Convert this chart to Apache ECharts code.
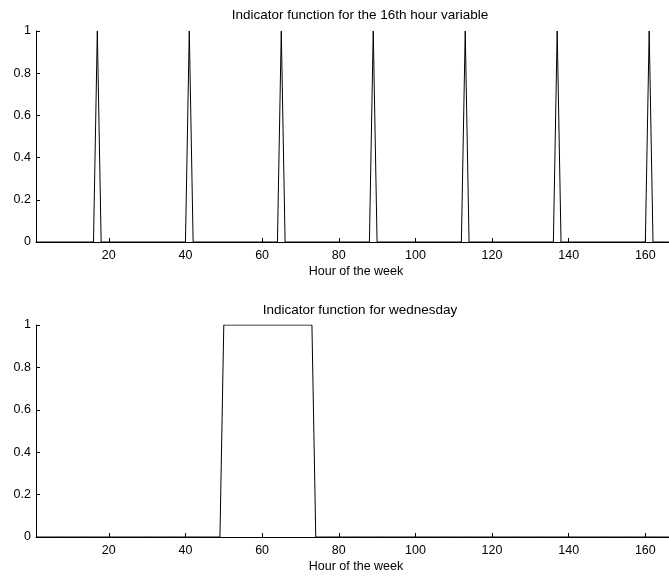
<!DOCTYPE html>
<html>
<head>
<meta charset="utf-8">
<script src="https://cdn.jsdelivr.net/npm/echarts@6/dist/echarts.min.js"></script>
<style>
  html, body { margin: 0; padding: 0; background: #fff; overflow: hidden; }
  /* the plot area runs a little past the right edge of the page */
  #chart { width: 677px; height: 578px; }
</style>
</head>
<body>
<div id="chart"></div>
<script>
// Hours of the week, numbered 1..168
const weekHours = [];
for (let h = 1; h <= 168; h++) weekHours.push(h);

// Hours where the 16th-hour indicator is on (one per day)
const hour16On = [17, 41, 65, 89, 113, 137, 161];

// Hours where the Wednesday indicator is on
const wednesdayOn = [50, 51, 52, 53, 54, 55, 56, 57, 58, 59, 60, 61,
                     62, 63, 64, 65, 66, 67, 68, 69, 70, 71, 72, 73];

const xTickValues = [20, 40, 60, 80, 100, 120, 140, 160];
const yTickValues = [0, 0.2, 0.4, 0.6, 0.8, 1];

const titles = ['Indicator function for the 16th hour variable', 'Indicator function for wednesday'];
const xName = 'Hour of the week';

function indicator(onHours) {
  const on = new Set(onHours);
  return weekHours.map(h => [h, on.has(h) ? 1 : 0]);
}

const FONT = 'Liberation Sans, Arial, sans-serif';
const grids = [
  { left: 36, right: 1, top: 31, height: 211, outerBoundsMode: 'none' },
  { left: 36, right: 1, top: 325, height: 212, outerBoundsMode: 'none' }
];

function xAxis(i) {
  return {
    type: 'value', gridIndex: i, min: 1, max: 168,
    name: xName, nameLocation: 'middle', nameGap: 23,
    nameTextStyle: { color: '#000', fontFamily: FONT, fontSize: 12.5 },
    axisLine: { lineStyle: { color: '#000', width: 1 } },
    axisTick: { inside: true, length: 4, customValues: xTickValues, lineStyle: { color: '#000' } },
    axisLabel: { customValues: xTickValues, color: '#000', fontFamily: FONT, fontSize: 12.5, margin: 7 },
    splitLine: { show: false }
  };
}
function yAxis(i) {
  return {
    type: 'value', gridIndex: i, min: 0, max: 1, interval: 0.2,
    axisLine: { show: true, lineStyle: { color: '#000', width: 1 } },
    axisTick: { show: true, inside: true, length: 4, customValues: yTickValues, lineStyle: { color: '#000' } },
    axisLabel: { customValues: yTickValues, color: '#000', fontFamily: FONT, fontSize: 12.5, margin: 5 },
    splitLine: { show: false }
  };
}

const titleStyle = { fontFamily: FONT, fontSize: 13.5, fontWeight: 'normal', color: '#000' };

const chart = echarts.init(document.getElementById('chart'), null, { renderer: 'canvas' });
chart.setOption({
  animation: false,
  backgroundColor: '#fff',
  title: [
    { text: titles[0], left: 355, textAlign: 'center', top: 3, textStyle: titleStyle },
    { text: titles[1], left: 355, textAlign: 'center', top: 298, textStyle: titleStyle }
  ],
  grid: grids,
  xAxis: [xAxis(0), xAxis(1)],
  yAxis: [yAxis(0), yAxis(1)],
  series: [
    { type: 'line', xAxisIndex: 0, yAxisIndex: 0, data: indicator(hour16On),
      showSymbol: false, lineStyle: { color: '#000', width: 1 } },
    { type: 'line', xAxisIndex: 1, yAxisIndex: 1, data: indicator(wednesdayOn),
      showSymbol: false, lineStyle: { color: '#000', width: 1 } }
  ]
});
</script>
</body>
</html>
